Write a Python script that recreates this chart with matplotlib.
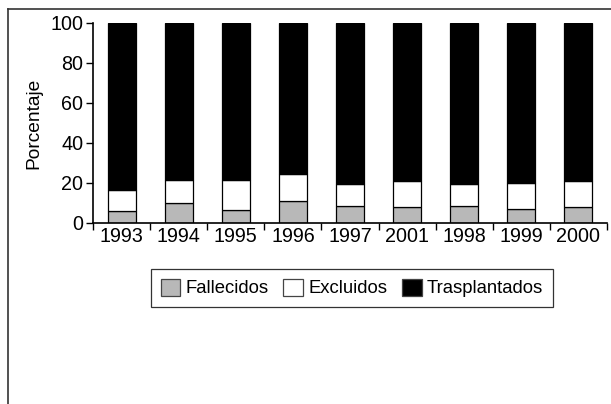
#!/usr/bin/env python3
import matplotlib
matplotlib.use('Agg')
import matplotlib.pyplot as plt
import numpy as np
from matplotlib.lines import Line2D

plt.rcParams['font.family'] = ['Liberation Sans', 'DejaVu Sans']

years = ['1993', '1994', '1995', '1996', '1997', '2001', '1998', '1999', '2000']
fallecidos = [6.0, 10.2, 6.5, 10.9, 8.4, 8.0, 8.7, 7.0, 8.2]
excluidos = [10.7, 11.1, 14.9, 13.4, 10.9, 12.8, 10.6, 13.1, 12.9]
trasplantados = [100 - f - e for f, e in zip(fallecidos, excluidos)]

fig = plt.figure(figsize=(6.11, 4.04), dpi=100)
ax = fig.add_axes([93 / 611, 181 / 404, 514 / 611, 200 / 404])

x = np.arange(len(years))
w = 0.49
ax.bar(x, fallecidos, w, color='#b8b8b8', edgecolor='black', linewidth=0.9, label='Fallecidos')
ax.bar(x, excluidos, w, bottom=fallecidos, color='white', edgecolor='black', linewidth=0.9, label='Excluidos')
bottom2 = [f + e for f, e in zip(fallecidos, excluidos)]
ax.bar(x, trasplantados, w, bottom=bottom2, color='black', edgecolor='black', linewidth=0.9, label='Trasplantados')

ax.set_xlim(-0.5, len(years) - 0.5)
ax.set_ylim(0, 100)
ax.set_yticks([0, 20, 40, 60, 80, 100])
ax.set_xticks(x)
ax.set_xticklabels(years)
ax.set_xticks(np.arange(len(years) + 1) - 0.5, minor=True)
ax.tick_params(axis='x', which='major', length=0, labelsize=14.2, pad=3)
ax.tick_params(axis='x', which='minor', length=5, direction='out', width=1)
ax.tick_params(axis='y', length=5, direction='out', width=1, labelsize=14.2, pad=2)
ax.set_ylabel('Porcentaje', fontsize=13.8, labelpad=6)

for s in ['top', 'right']:
    ax.spines[s].set_visible(False)
for s in ['left', 'bottom']:
    ax.spines[s].set_linewidth(1.2)

leg = ax.legend(loc='center', bbox_to_anchor=(352 / 611, 1 - 288 / 404),
                bbox_transform=fig.transFigure, ncol=3, fontsize=13.3,
                frameon=True, fancybox=False, edgecolor='black',
                handlelength=1.05, handleheight=1.05, handletextpad=0.3,
                columnspacing=0.8, borderpad=0.5)
leg.get_frame().set_linewidth(0.9)
for h in leg.legend_handles:
    h.set_edgecolor('#444444')

# outer frame (top and left lines)
fig.add_artist(Line2D([8 / 611, 1], [1 - 9 / 404, 1 - 9 / 404], color='#333333', lw=1.2,
                      transform=fig.transFigure))
fig.add_artist(Line2D([8 / 611, 8 / 611], [0, 1 - 9 / 404], color='#333333', lw=1.2,
                      transform=fig.transFigure))

fig.savefig('out.png', dpi=100)
